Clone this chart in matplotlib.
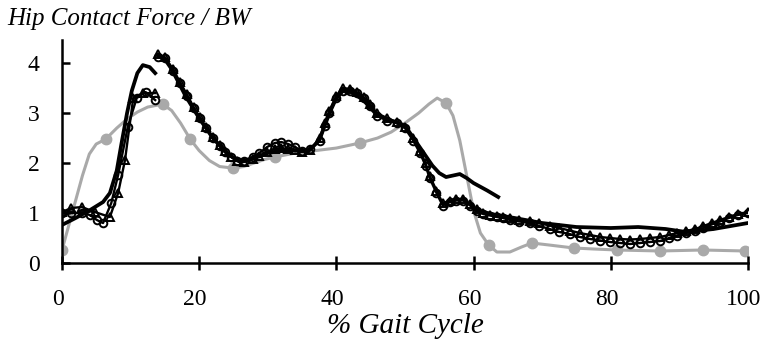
import numpy as np
import matplotlib
matplotlib.use("Agg")
import matplotlib.pyplot as plt
import matplotlib.transforms as mtransforms

# gray series: marker points and the smoothed curve through them
gray_pts_x = [0, 6.4, 14.7, 18.7, 24.9, 31, 43.4, 56, 62.2, 68.5, 74.6, 80.9, 87.2, 93.4, 99.6]
gray_pts_y = [0.25, 2.48, 3.18, 2.48, 1.9, 2.12, 2.4, 3.2, 0.36, 0.4, 0.3, 0.26, 0.24, 0.26, 0.24]
gray_x = [0, 1, 2, 3, 4, 5, 6.4, 8, 9.5, 11, 12.5, 14.7, 16, 17.3, 18.7, 20, 21.5, 23, 24.9,
          26.5, 28, 29.5, 31, 34, 37, 40, 43.4, 46, 48, 50, 52, 53.5, 54.7, 56, 57, 58, 59,
          60, 61, 62.2, 63.4, 65.3, 67, 68.5, 71, 74.6, 77.5, 80.9, 87.2, 93.4, 99.6]
gray_y = [0.25, 0.75, 1.25, 1.75, 2.18, 2.38, 2.48, 2.7, 2.88, 3.02, 3.12, 3.18, 3.05, 2.8, 2.48,
          2.25, 2.05, 1.93, 1.9, 1.93, 2.0, 2.07, 2.12, 2.2, 2.25, 2.3, 2.4, 2.5, 2.62, 2.8, 3.0,
          3.18, 3.3, 3.2, 2.95, 2.45, 1.75, 1.05, 0.6, 0.36, 0.22, 0.22, 0.32, 0.4, 0.36, 0.3,
          0.28, 0.26, 0.24, 0.26, 0.24]

# solid black series (three pieces)
solid1_x = [0, 2, 4, 6, 7, 8, 8.7, 9.5, 10.2, 11, 11.8, 12.8, 13.6]
solid1_y = [0.76, 0.9, 1.05, 1.22, 1.4, 1.85, 2.4, 3.0, 3.45, 3.8, 3.96, 3.92, 3.8]
solid2_x = [14, 15, 16, 18, 20, 22, 24, 26, 28, 30, 32, 34, 36, 37.5, 39, 40, 41, 42, 43, 44,
            46, 48, 50, 51, 52, 53, 54, 55, 56, 57, 58, 59, 60, 62, 63.6]
solid2_y = [4.15, 4.08, 3.88, 3.35, 2.9, 2.5, 2.2, 2.02, 2.1, 2.2, 2.25, 2.25, 2.25, 2.45,
            3.0, 3.3, 3.45, 3.45, 3.35, 3.25, 2.95, 2.85, 2.75, 2.55, 2.35, 2.15, 1.95, 1.8,
            1.72, 1.75, 1.78, 1.7, 1.6, 1.45, 1.32]
solid3_x = [60.5, 63, 66, 70, 75, 80, 84, 88, 91, 95, 100]
solid3_y = [1.05, 0.97, 0.9, 0.8, 0.72, 0.7, 0.72, 0.68, 0.62, 0.68, 0.8]

# circle series
circ1_x = [0, 1.4, 2.9, 4.1, 5.1, 6.0, 7.2, 8.2, 9.6, 10.9, 12.2, 13.6]
circ1_y = [1.0, 1.0, 1.0, 0.96, 0.86, 0.8, 1.2, 1.76, 2.72, 3.3, 3.42, 3.26]
seg_x = [14, 15, 16.2, 17.2, 18.2, 19.2, 20.1, 21, 22, 23, 23.8, 24.7, 25.5, 26.5, 27.8, 28.8,
         29.9, 31, 32, 33, 34, 35, 36.2, 37.6, 38.3, 39, 40, 41, 42, 43, 44, 44.9, 45.9, 47.4,
         48.8, 50, 51.2, 52.2, 53, 53.6, 54.6, 55.5, 56.6, 57.5, 58.5, 59.5, 60.5, 61.4, 62.4,
         63.4, 64.3, 65.3, 66.7, 68.2, 69.6, 71.1, 72.5, 74, 75.5, 77, 78.5, 79.9, 81.4, 82.8,
         84.3, 85.7, 87.2, 88.5, 89.6, 91, 92.3, 93.5, 94.7, 95.9, 97.2, 98.5, 100]
circ2_y = [4.12, 4.1, 3.85, 3.6, 3.35, 3.1, 2.9, 2.7, 2.5, 2.35, 2.22, 2.12, 2.05, 2.05, 2.12,
           2.2, 2.32, 2.4, 2.42, 2.38, 2.32, 2.24, 2.28, 2.45, 2.75, 3.0, 3.3, 3.45, 3.45, 3.4,
           3.3, 3.15, 2.95, 2.85, 2.8, 2.7, 2.45, 2.2, 1.95, 1.7, 1.4, 1.15, 1.22, 1.25, 1.25,
           1.15, 1.05, 0.98, 0.95, 0.92, 0.9, 0.86, 0.83, 0.8, 0.74, 0.68, 0.62, 0.58, 0.52,
           0.48, 0.45, 0.42, 0.4, 0.38, 0.4, 0.42, 0.44, 0.5, 0.55, 0.6, 0.65, 0.7, 0.77, 0.83,
           0.9, 0.96, 1.0]

# triangle series
tri1_x = [0, 1.4, 2.9, 4.8, 7.0, 8.2, 9.2, 10.4, 11.8, 13.6]
tri1_y = [1.02, 1.1, 1.12, 1.02, 0.92, 1.4, 2.06, 3.3, 3.4, 3.4]
tri2_y = [4.18, 4.12, 3.88, 3.62, 3.38, 3.12, 2.92, 2.72, 2.52, 2.36, 2.24, 2.12, 2.04, 2.02,
          2.08, 2.15, 2.22, 2.28, 2.3, 2.28, 2.26, 2.22, 2.26, 2.5, 2.8, 3.05, 3.35, 3.5, 3.48,
          3.42, 3.32, 3.18, 3.0, 2.9, 2.82, 2.72, 2.5, 2.25, 2.0, 1.75, 1.45, 1.2, 1.25, 1.28,
          1.28, 1.18, 1.08, 1.0, 0.97, 0.95, 0.93, 0.9, 0.87, 0.84, 0.8, 0.75, 0.7, 0.65, 0.6,
          0.56, 0.52, 0.5, 0.48, 0.47, 0.48, 0.5, 0.52, 0.56, 0.6, 0.64, 0.68, 0.74, 0.8, 0.86,
          0.92, 0.98, 1.02]

xticks = [0, 20, 40, 60, 80, 100]
yticks = [0, 1, 2, 3, 4]

plt.rcParams["font.family"] = "Liberation Serif"

fig = plt.figure(figsize=(7.64, 3.4), dpi=100)
ax = fig.add_axes([0.081, 0.2265, 0.898, 0.6555])

gray = "#a9a9a9"
ax.plot(gray_x, gray_y, color=gray, lw=2.2, zorder=1)
ax.plot(gray_pts_x, gray_pts_y, "o", color=gray, ms=7.5, zorder=1)

for xs, ys in [(solid1_x, solid1_y), (solid2_x, solid2_y), (solid3_x, solid3_y)]:
    ax.plot(xs, ys, color="black", lw=2.7, zorder=3)

mk = dict(color="black", lw=1.7, mfc="none", mec="black", mew=1.4, ms=5.5, zorder=2)
ax.plot(circ1_x, circ1_y, marker="o", **mk)
ax.plot(seg_x, circ2_y, marker="o", **mk)
ax.plot(tri1_x, tri1_y, marker="^", **mk)
ax.plot(seg_x, tri2_y, marker="^", **mk)

ax.set_xlim(0, 100)
ax.set_ylim(0, 4.46)
ax.set_xticks(xticks)
ax.set_yticks(yticks)
for s in ["top", "right"]:
    ax.spines[s].set_visible(False)
for s in ["left", "bottom"]:
    ax.spines[s].set_linewidth(1.8)
ax.tick_params(axis="x", direction="inout", length=10, width=1.8, labelsize=17, pad=14)
ax.tick_params(axis="y", direction="in", length=6, width=1.8, labelsize=17, pad=16)

# labels sit a few pixels left of their ticks in the original
shift = mtransforms.ScaledTranslation(-3 / 72, 0, fig.dpi_scale_trans)
for lbl in ax.get_xticklabels():
    lbl.set_transform(lbl.get_transform() + shift)

ax.set_xlabel("% Gait Cycle", fontsize=21, style="italic", labelpad=2)
fig.text(0.010, 0.975, "Hip Contact Force / BW", fontsize=18, style="italic",
         ha="left", va="top")

plt.savefig("out.png", dpi=100)
